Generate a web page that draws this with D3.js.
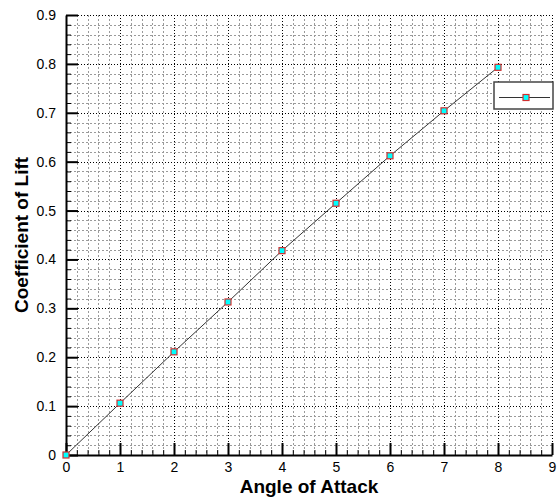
<!DOCTYPE html>
<meta charset="utf-8">
<style>
body { margin: 0; background: #fff; }
.axis text { font-family: Arial, "Liberation Sans", sans-serif; font-size: 14px; fill: #000; }
.axis path { stroke: #000; stroke-width: 2px; }
.title { font-family: Arial, "Liberation Sans", sans-serif; font-size: 19px; font-weight: bold; }
</style>
<body>
<script src="https://d3js.org/d3.v7.min.js"></script>
<script>
// data
var angles = [0, 1, 2, 3, 4, 5, 6, 7, 8];
var lift = [0, 0.106, 0.211, 0.313, 0.418, 0.515, 0.612, 0.704, 0.793];
var xTicks = [0, 1, 2, 3, 4, 5, 6, 7, 8, 9];
var yTicks = [0, 0.1, 0.2, 0.3, 0.4, 0.5, 0.6, 0.7, 0.8, 0.9];

var W = 557, H = 498;
// plot edges (note: "top" is a reserved window property, so use other names)
var pLeft = 66, pRight = 552, pTop = 15, pBottom = 455;

var x = d3.scaleLinear().domain([0, 9]).range([pLeft, pRight]);
var y = d3.scaleLinear().domain([0, 0.9]).range([pBottom, pTop]);

var svg = d3.select("body").append("svg")
    .attr("width", W)
    .attr("height", H);

// minor tick values
var xMinor = d3.range(0, 45).map(function(i) { return i * 0.2; }).filter(function(v) { return Math.abs(v - Math.round(v)) > 1e-6; });
var yMinor = d3.range(0, 45).map(function(i) { return i * 0.02; }).filter(function(v) { return Math.abs(v * 10 - Math.round(v * 10)) > 1e-6; });

// grid
var grid = svg.append("g");
grid.selectAll(".gxm").data(xMinor).enter().append("line")
    .attr("x1", function(d) { return Math.round(x(d)) + 0.5; })
    .attr("x2", function(d) { return Math.round(x(d)) + 0.5; })
    .attr("y1", pTop).attr("y2", pBottom)
    .attr("stroke", "#9a9a9a").attr("stroke-dasharray", "2,2");
grid.selectAll(".gym").data(yMinor).enter().append("line")
    .attr("y1", function(d) { return Math.round(y(d)) + 0.5; })
    .attr("y2", function(d) { return Math.round(y(d)) + 0.5; })
    .attr("x1", pLeft).attr("x2", pRight)
    .attr("stroke", "#9a9a9a").attr("stroke-dasharray", "2,2");
grid.selectAll(".gx").data(xTicks.slice(1)).enter().append("line")
    .attr("x1", function(d) { return Math.round(x(d)) + 0.5; })
    .attr("x2", function(d) { return Math.round(x(d)) + 0.5; })
    .attr("y1", pTop).attr("y2", pBottom)
    .attr("stroke", "#000").attr("stroke-dasharray", "1,2");
grid.selectAll(".gy").data(yTicks.slice(1)).enter().append("line")
    .attr("y1", function(d) { return Math.round(y(d)) + 0.5; })
    .attr("y2", function(d) { return Math.round(y(d)) + 0.5; })
    .attr("x1", pLeft).attr("x2", pRight)
    .attr("stroke", "#000").attr("stroke-dasharray", "1,2");

// minor tick marks
svg.append("g").attr("transform", "translate(0," + pBottom + ")")
    .call(d3.axisBottom(x).tickValues(xMinor).tickSize(-5).tickFormat(""))
    .call(function(g) { g.select(".domain").remove(); });
svg.append("g").attr("transform", "translate(" + pLeft + ",0)")
    .call(d3.axisLeft(y).tickValues(yMinor).tickSize(-5).tickFormat(""))
    .call(function(g) { g.select(".domain").remove(); });

// axes
var xAxis = svg.append("g").attr("class", "axis")
    .attr("transform", "translate(0," + pBottom + ")")
    .call(d3.axisBottom(x).tickValues(xTicks).tickSize(-12).tickSizeOuter(0).tickFormat(d3.format("d")));
xAxis.selectAll(".tick line").attr("stroke-width", 2);
xAxis.selectAll("text").attr("y", 7).attr("dy", "0.71em");

var yAxis = svg.append("g").attr("class", "axis")
    .attr("transform", "translate(" + pLeft + ",0)")
    .call(d3.axisLeft(y).tickValues(yTicks).tickSize(-12).tickSizeOuter(0)
        .tickFormat(function(d) { return d === 0 ? "0" : d3.format(".1f")(d); }));
yAxis.selectAll(".tick line").attr("stroke-width", 2);
yAxis.selectAll("text").attr("x", -10);

// series line
var pts = angles.map(function(a, i) { return [a, lift[i]]; });
svg.append("path")
    .datum(pts)
    .attr("fill", "none")
    .attr("stroke", "#333")
    .attr("stroke-width", 1)
    .attr("d", d3.line().x(function(d) { return x(d[0]); }).y(function(d) { return y(d[1]); }));

svg.selectAll(".pt").data(pts).enter().append("rect")
    .attr("x", function(d) { return x(d[0]) - 3; })
    .attr("y", function(d) { return y(d[1]) - 3; })
    .attr("width", 6).attr("height", 6)
    .attr("fill", "#00ffff")
    .attr("stroke", "#d03030")
    .attr("stroke-width", 1.2);

// legend
var lg = svg.append("g");
lg.append("rect").attr("x", 494).attr("y", 82).attr("width", 59).attr("height", 27)
    .attr("fill", "#fff").attr("stroke", "#444").attr("stroke-width", 1.5);
lg.append("line").attr("x1", 499).attr("x2", 550).attr("y1", 97.5).attr("y2", 97.5)
    .attr("stroke", "#333").attr("stroke-width", 1);
lg.append("rect").attr("x", 523).attr("y", 94.5).attr("width", 6).attr("height", 6)
    .attr("fill", "#00ffff").attr("stroke", "#d03030").attr("stroke-width", 1.2);

// titles
svg.append("text").attr("class", "title")
    .attr("x", (pLeft + pRight) / 2).attr("y", 493)
    .attr("text-anchor", "middle")
    .text("Angle of Attack");
svg.append("text").attr("class", "title")
    .attr("transform", "translate(28," + (pTop + pBottom) / 2 + ") rotate(-90)")
    .attr("text-anchor", "middle")
    .text("Coefficient of Lift");
</script>
</body>
